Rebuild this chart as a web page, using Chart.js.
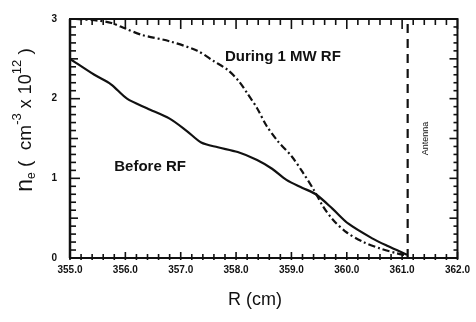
<!DOCTYPE html>
<html>
<head>
<meta charset="utf-8">
<script src="https://cdn.jsdelivr.net/npm/chart.js@4"></script>
<style>
  html, body { margin: 0; padding: 0; background: #fff; }
  #wrap { width: 476px; height: 322px; }
</style>
</head>
<body>
<div id="wrap"><canvas id="chart" width="476" height="322"></canvas></div>
<script>
// R (cm) and n_e readings for each profile
const beforeR = [355.0, 355.44, 355.74, 356.03, 356.39, 356.8, 357.1, 357.37, 357.67, 358.03, 358.38, 358.65, 358.91, 359.2, 359.44, 359.74, 360.03, 360.45, 360.74, 361.09];
const beforeNe = [2.50, 2.30, 2.18, 2.00, 1.88, 1.75, 1.60, 1.45, 1.39, 1.33, 1.23, 1.12, 0.98, 0.88, 0.80, 0.62, 0.43, 0.25, 0.15, 0.04];

const duringR = [355.1, 355.5, 355.75, 356.0, 356.3, 356.8, 357.3, 357.6, 357.85, 358.05, 358.2, 358.38, 358.55, 358.75, 359.0, 359.2, 359.4, 359.57, 359.75, 360.0, 360.3, 360.6, 360.9, 361.1];
const duringNe = [3.0, 2.98, 2.95, 2.88, 2.80, 2.72, 2.60, 2.47, 2.36, 2.22, 2.07, 1.88, 1.66, 1.47, 1.28, 1.08, 0.86, 0.65, 0.48, 0.32, 0.20, 0.12, 0.06, 0.03];

const antennaR = [361.1, 361.1];
const antennaNe = [0, 3];

const xTickLabels = ['355.0', '356.0', '357.0', '358.0', '359.0', '360.0', '361.0', '362.0'];
const yTickLabels = ['0', '1', '2', '3'];

const toPts = (xs, ys) => xs.map((x, i) => ({ x, y: ys[i] }));
const FONT = '"Liberation Sans", Arial, sans-serif';

const frame = {
  id: 'frame',
  afterDraw(chart) {
    const { ctx, chartArea: a, scales: { x, y } } = chart;
    ctx.save();
    ctx.setLineDash([]);
    ctx.lineCap = 'butt';
    ctx.strokeStyle = '#111';
    ctx.fillStyle = '#111';

    // box
    ctx.lineWidth = 2;
    ctx.strokeRect(a.left, a.top, a.right - a.left, a.bottom - a.top);
    ctx.lineWidth = 2.5;
    ctx.beginPath(); ctx.moveTo(a.left, a.top); ctx.lineTo(a.left, a.bottom); ctx.stroke();

    // inward ticks
    const seg = (x1, y1, x2, y2) => {
      ctx.beginPath(); ctx.moveTo(x1, y1); ctx.lineTo(x2, y2); ctx.stroke();
    };
    ctx.lineWidth = 1.6;
    for (let i = 0; i <= 35; i++) {
      const px = x.getPixelForValue(355 + i * 0.2);
      const major = i % 5 === 0;
      seg(px, a.top, px, a.top + (major ? 10 : 6));
      seg(px, a.bottom + 2, px, a.bottom - (major ? 6 : 4));
    }
    for (let i = 0; i <= 30; i++) {
      const py = y.getPixelForValue(i * 0.1);
      const left = i % 10 === 0 ? 10 : (i % 5 === 0 ? 8 : 6);
      const right = i % 5 === 0 ? 8 : 4;
      seg(a.left, py, a.left + left, py);
      seg(a.right, py, a.right - right, py);
    }

    // annotations
    ctx.textBaseline = 'middle';
    ctx.textAlign = 'left';
    ctx.font = 'bold 15px ' + FONT;
    ctx.fillText('During 1 MW RF', x.getPixelForValue(357.8), y.getPixelForValue(2.53));
    ctx.fillText('Before RF', x.getPixelForValue(355.8), y.getPixelForValue(1.15));

    ctx.save();
    ctx.translate(x.getPixelForValue(361.43), y.getPixelForValue(1.5));
    ctx.rotate(-Math.PI / 2);
    ctx.textAlign = 'center';
    ctx.font = '9px ' + FONT;
    ctx.fillText('Antenna', 0, 0);
    ctx.restore();

    // x title
    ctx.textAlign = 'center';
    ctx.font = '18px ' + FONT;
    ctx.fillText('R (cm)', 255, 300);

    // y title with sub/superscripts
    const parts = [
      { t: 'n', f: '23px', dy: 0 },
      { t: 'e', f: '12px', dy: 6 },
      { t: ' (  cm', f: '19px', dy: 0 },
      { t: '-3', f: '13px', dy: -9 },
      { t: ' x 10', f: '18px', dy: 0 },
      { t: '12', f: '13px', dy: -9 },
      { t: ' )', f: '19px', dy: 0 }
    ];
    let total = 0;
    parts.forEach(p => {
      ctx.font = p.f + ' ' + FONT;
      p.w = ctx.measureText(p.t).width;
      total += p.w;
    });
    ctx.save();
    ctx.translate(26, 120);
    ctx.rotate(-Math.PI / 2);
    ctx.textAlign = 'left';
    let cx = -total / 2;
    parts.forEach(p => {
      ctx.font = p.f + ' ' + FONT;
      ctx.fillText(p.t, cx, p.dy);
      cx += p.w;
    });
    ctx.restore();

    ctx.restore();
  }
};

new Chart(document.getElementById('chart'), {
  type: 'line',
  data: {
    datasets: [
      {
        label: 'Before RF',
        data: toPts(beforeR, beforeNe),
        borderColor: '#111',
        borderWidth: 2.2,
        pointRadius: 0,
        tension: 0.3
      },
      {
        label: 'During 1 MW RF',
        data: toPts(duringR, duringNe),
        borderColor: '#111',
        borderWidth: 2.2,
        borderDash: [7, 3, 2, 3],
        pointRadius: 0,
        tension: 0.3
      },
      {
        label: 'Antenna',
        data: toPts(antennaR, antennaNe),
        borderColor: '#111',
        borderWidth: 2.2,
        borderDash: [9, 6],
        pointRadius: 0
      }
    ]
  },
  options: {
    responsive: false,
    animation: false,
    layout: { padding: { left: 0, top: 15, right: 14, bottom: 0 } },
    plugins: { legend: { display: false }, tooltip: { enabled: false } },
    scales: {
      x: {
        type: 'linear',
        min: 355, max: 362,
        afterFit: s => { s.height = 64; },
        grid: { display: false, drawTicks: false },
        border: { display: false },
        ticks: {
          stepSize: 1,
          padding: 6,
          color: '#111',
          font: { family: FONT, size: 10, weight: 'bold' },
          callback: (v, i) => xTickLabels[i]
        }
      },
      y: {
        min: 0, max: 3,
        afterFit: s => { s.width = 70; },
        grid: { display: false, drawTicks: false },
        border: { display: false },
        ticks: {
          stepSize: 1,
          padding: 13,
          color: '#111',
          font: { family: FONT, size: 10, weight: 'bold' },
          callback: (v, i) => yTickLabels[i]
        }
      }
    }
  },
  plugins: [frame]
});
</script>
</body>
</html>
